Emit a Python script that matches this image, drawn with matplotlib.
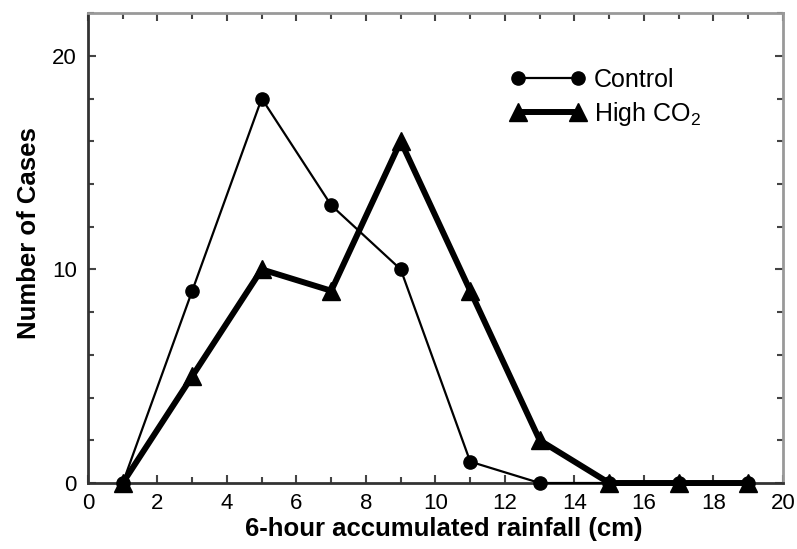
import matplotlib
matplotlib.use("Agg")
import matplotlib.pyplot as plt
from matplotlib.ticker import MultipleLocator

# rainfall bins (cm) and case counts
rainfall = [1, 3, 5, 7, 9, 11, 13, 15, 17, 19]
control = [0, 9, 18, 13, 10, 1, 0, 0, 0, 0]
high_co2 = [0, 5, 10, 9, 16, 9, 2, 0, 0, 0]

plt.rcParams['font.family'] = ['Liberation Sans', 'DejaVu Sans']
plt.rcParams['mathtext.default'] = 'regular'

fig = plt.figure(figsize=(7.97, 5.49), dpi=100)
ax = fig.add_axes([0.1104, 0.1202, 0.872, 0.856])

ax.plot(rainfall, control, color='black', lw=1.6, marker='o', ms=9.5,
        label='Control', clip_on=False, zorder=3)
ax.plot(rainfall, high_co2, color='black', lw=4.3, marker='^', ms=13.5,
        label='High CO$_2$', clip_on=False, zorder=4)

ax.set_xlim(0, 20)
ax.set_ylim(0, 22)
ax.xaxis.set_major_locator(MultipleLocator(2))
ax.xaxis.set_minor_locator(MultipleLocator(1))
ax.yaxis.set_major_locator(MultipleLocator(10))
ax.yaxis.set_minor_locator(MultipleLocator(2))
ax.tick_params(which='both', direction='in', top=True, right=True,
               labelsize=16, width=1.5, color='#444444')
ax.tick_params(which='major', length=6)
ax.tick_params(which='minor', length=4)
ax.tick_params(axis='x', pad=7)
ax.tick_params(axis='y', pad=8)

for side in ['left', 'bottom']:
    ax.spines[side].set_linewidth(2)
    ax.spines[side].set_color('#333333')
for side in ['top', 'right']:
    ax.spines[side].set_linewidth(2)
    ax.spines[side].set_color('#999999')

ax.set_xlabel('6-hour accumulated rainfall (cm)', fontsize=18.5,
              fontweight='bold', labelpad=2)
ax.xaxis.label.set_x(0.512)
ax.set_ylabel('Number of Cases', fontsize=18.5, fontweight='bold', labelpad=8)
ax.yaxis.label.set_y(0.532)

ax.legend(loc='upper left', bbox_to_anchor=(510 / 797, 1 - 68 / 549),
          bbox_transform=fig.transFigure, frameon=False, borderpad=0,
          borderaxespad=0, numpoints=2, handlelength=3.0, handletextpad=0.35,
          fontsize=18, labelspacing=0.3)

fig.savefig('out.png', dpi=100)
